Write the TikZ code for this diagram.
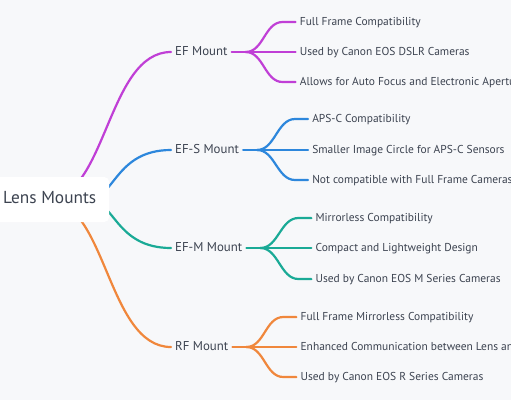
\documentclass[tikz,border=0pt]{standalone}
\usepackage{fontspec}
\setmainfont{PT Sans}
\usetikzlibrary{calc}
\definecolor{bgc}{HTML}{F7F8FA}
\definecolor{txt}{HTML}{3C4350}
\definecolor{cmag}{HTML}{C03FD6}
\definecolor{cblue}{HTML}{2D87DC}
\definecolor{cteal}{HTML}{1AAA96}
\definecolor{corange}{HTML}{F0873C}
\newlength\mmw
\pgfdeclarelayer{back}
\pgfdeclarelayer{bg}
\pgfsetlayers{back,bg,main}
\begin{document}
\settowidth\mmw{\fontsize{10pt}{12pt}\selectfont Used by Canon EOS M Series Cameras}%
\pgfmathsetmacro\szc{1850/\mmw}%
\settowidth\mmw{\fontsize{10pt}{12pt}\selectfont EF-M Mount}%
\pgfmathsetmacro\szm{670/\mmw}%
\settowidth\mmw{\fontsize{10pt}{12pt}\selectfont Lens Mounts}%
\pgfmathsetmacro\szr{930/\mmw}%
\begin{tikzpicture}[x=1pt,y=-1pt,
  link/.style={line width=2.2pt,line cap=round},
  rootnode/.style={fill=white,rounded corners=5pt,anchor=west,inner xsep=13pt,inner ysep=0pt,text height=0.7em,text depth=0pt,minimum height=45pt,text=txt,font=\fontsize{\szr pt}{\szr pt}\selectfont},
  mid/.style={anchor=west,inner xsep=4pt,inner ysep=3pt,text height=0.7em,text depth=0pt,text=txt,font=\fontsize{\szm pt}{\szm pt}\selectfont},
  leaf/.style={anchor=west,inner xsep=4pt,inner ysep=2pt,text height=0.7em,text depth=0pt,text=txt,font=\fontsize{\szc pt}{\szc pt}\selectfont}]
\useasboundingbox (0,0) rectangle (511,400);
\begin{pgfonlayer}{back}
\fill[bgc] (0,0) rectangle (511,400);
\end{pgfonlayer}
\clip (0,0) rectangle (511,400);

% root and first level
\node[rootnode] (root) at (-10,199.5) {Lens Mounts};
\node[mid] (ef) at (171,52) {EF Mount};
\node[mid] (efs) at (171,150) {EF-S Mount};
\node[mid] (efm) at (171,248) {EF-M Mount};
\node[mid] (rf) at (171,347) {RF Mount};

% leaves
\node[leaf] (ef1) at ($(ef.east)+(64,-30)$) {Full Frame Compatibility};
\node[leaf] (ef2) at ($(ef.east)+(64,0)$) {Used by Canon EOS DSLR Cameras};
\node[leaf] (ef3) at ($(ef.east)+(64,30)$) {Allows for Auto Focus and Electronic Aperture Control};
\node[leaf] (efs1) at ($(efs.east)+(65,-31)$) {APS-C Compatibility};
\node[leaf] (efs2) at ($(efs.east)+(65,0)$) {Smaller Image Circle for APS-C Sensors};
\node[leaf] (efs3) at ($(efs.east)+(65,30)$) {Not compatible with Full Frame Cameras};
\node[leaf] (efm1) at ($(efm.east)+(65,-30)$) {Mirrorless Compatibility};
\node[leaf] (efm2) at ($(efm.east)+(65,0)$) {Compact and Lightweight Design};
\node[leaf] (efm3) at ($(efm.east)+(65,31)$) {Used by Canon EOS M Series Cameras};
\node[leaf] (rf1) at ($(rf.east)+(64,-30)$) {Full Frame Mirrorless Compatibility};
\node[leaf] (rf2) at ($(rf.east)+(64,0)$) {Enhanced Communication between Lens and Camera};
\node[leaf] (rf3) at ($(rf.east)+(64,30)$) {Used by Canon EOS R Series Cameras};

\coordinate (ra) at ([xshift=-3pt]root.center);
\coordinate (rb) at ([xshift=38pt]root.center);

\begin{pgfonlayer}{bg}
% root to first level
\draw[link,cmag] (ra) .. controls +(60,0) and +(-64,0) .. (ef.west);
\draw[link,cblue] (rb) .. controls +(27,0) and +(-56,0) .. (efs.west);
\draw[link,cteal] (rb) .. controls +(27,0) and +(-56,0) .. (efm.west);
\draw[link,corange] (ra) .. controls +(60,0) and +(-64,0) .. (rf.west);

% fans
\foreach \p/\c in {ef/cmag,efs/cblue,efm/cteal,rf/corange}{
  \coordinate (j) at ([xshift=14pt]\p.east);
  \draw[link,\c] (\p.east) -- (j);
  \foreach \k in {1,2,3}{
    \coordinate (e) at ([xshift=-13pt]\p\k.west);
    \draw[link,\c] (j) .. controls +(18,0) and +(-18,0) .. (e) -- (\p\k.west);
  }
}
\end{pgfonlayer}
\end{tikzpicture}
\end{document}
